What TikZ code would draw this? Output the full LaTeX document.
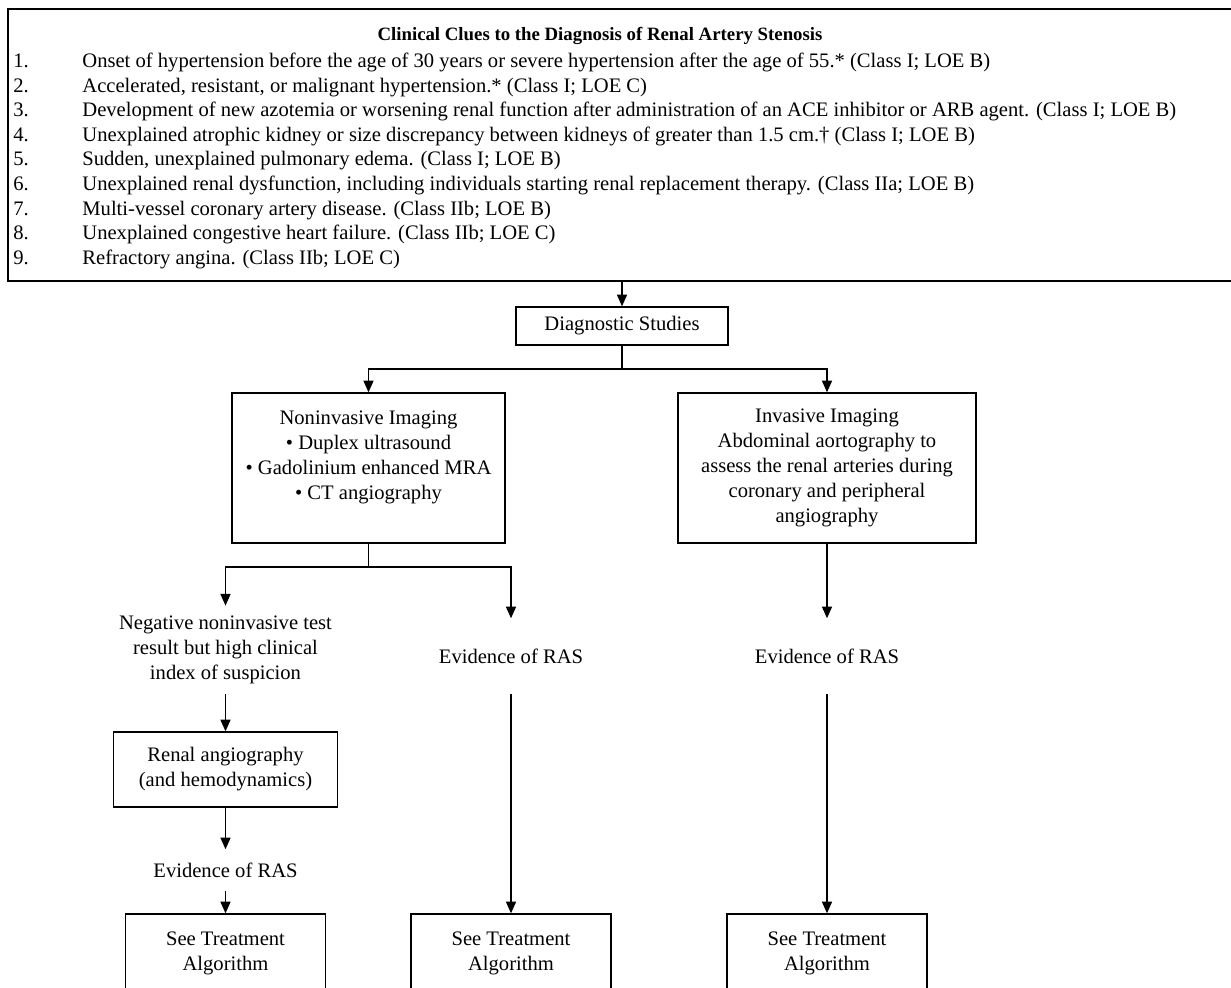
\documentclass[tikz,border=0pt]{standalone}
\usepackage{fontspec}
\setmainfont{Liberation Serif}
\usetikzlibrary{arrows.meta}

\begin{document}
\begin{tikzpicture}[x=0.5pt,y=-0.5pt,
    font=\fontsize{10.3}{12.5}\selectfont,
    box/.style={draw,line width=0.7pt,align=center,inner sep=0pt},
    txt/.style={align=center,inner sep=0pt},
    arr/.style={line width=0.7pt,-{Triangle[length=5.8pt,width=5pt]}},
    link/.style={line width=0.7pt}]
\useasboundingbox (0,0) rectangle (1231,988);
\clip (0,0) rectangle (1231,988);
% clinical clues box (runs off the right edge)
\node[draw,line width=1.2pt,minimum width=623pt,minimum height=136pt,inner sep=0pt] (clues) at (631,145) {};
\node[anchor=base,font=\fontsize{9.4}{12.5}\selectfont\bfseries] (cluesTitle) at (600,41) {Clinical Clues to the Diagnosis of Renal Artery Stenosis};
\foreach \i/\clue in {1/{Onset of hypertension before the age of 30 years or severe hypertension after the age of 55.* (Class I; LOE B)},
    2/{Accelerated, resistant, or malignant hypertension.* (Class I; LOE C)},
    3/{Development of new azotemia or worsening renal function after administration of an ACE inhibitor or ARB agent. (Class I; LOE B)},
    4/{Unexplained atrophic kidney or size discrepancy between kidneys of greater than 1.5 cm.† (Class I; LOE B)},
    5/{Sudden, unexplained pulmonary edema. (Class I; LOE B)},
    6/{Unexplained renal dysfunction, including individuals starting renal replacement therapy. (Class IIa; LOE B)},
    7/{Multi-vessel coronary artery disease. (Class IIb; LOE B)},
    8/{Unexplained congestive heart failure. (Class IIb; LOE C)},
    9/{Refractory angina. (Class IIb; LOE C)}} {
  \node[anchor=base west,inner sep=0pt] (num\i) at (13,{43+24.6*\i}) {\i.};
  \node[anchor=base west,inner sep=0pt] (clue\i) at (82,{43+24.6*\i}) {\clue};
}
% studies
\node[box,minimum width=106pt,minimum height=19pt] (diag) at (622,326) {Diagnostic Studies};
\node[box,minimum width=136.5pt,minimum height=75pt,text depth=12.8pt] (nonInv) at (368.5,468) {Noninvasive Imaging\\ • Duplex ultrasound\\ • Gadolinium enhanced MRA\\ • CT angiography};
\node[box,minimum width=149pt,minimum height=75pt] (inv) at (827,468) {Invasive Imaging\\Abdominal aortography to\\assess the renal arteries during\\coronary and peripheral\\angiography};
% results
\node[txt,inner ysep=5pt] (negRes) at (225.5,650) {Negative noninvasive test\\result but high clinical\\index of suspicion};
\node[txt,inner ysep=15pt] (evNon) at (511,656) {Evidence of RAS};
\node[txt,inner ysep=15pt] (evInv) at (827,656) {Evidence of RAS};
\node[box,minimum width=112pt,minimum height=37.5pt] (renal) at (225.5,769.5) {Renal angiography\\(and hemodynamics)};
\node[txt,inner ysep=6.5pt] (evRenal) at (225.5,870) {Evidence of RAS};
\foreach \n/\x in {treatA/225.5,treatB/511,treatC/827}
  \node[box,minimum width=100pt,minimum height=39.5pt] (\n) at (\x,953.5) {See Treatment\\Algorithm};
% connectors
\coordinate (splitA) at (622,369);
\coordinate (splitB) at (368.5,567);
\draw[arr] (clues.south -| diag) -- (diag);
\draw[link] (diag) -- (splitA);
\draw[arr] (splitA) -| (nonInv);
\draw[arr] (splitA) -| (inv);
\draw[link] (nonInv) -- (splitB);
\draw[arr] (splitB) -| (negRes);
\draw[arr] (splitB) -| (evNon);
\draw[arr] (inv) -- (evInv);
\draw[arr] (negRes) -- (renal);
\draw[arr] (renal) -- (evRenal);
\draw[arr] (evRenal) -- (treatA);
\draw[arr] (evNon) -- (treatB);
\draw[arr] (evInv) -- (treatC);
\end{tikzpicture}
\end{document}
